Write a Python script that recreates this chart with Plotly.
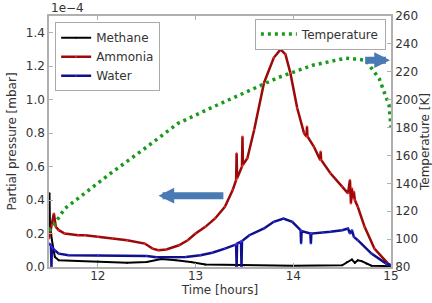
import plotly.graph_objects as go

# ---- data (hours, partial pressure in units of 1e-4 mbar, temperature K) ----
methane_t = [11.50, 11.505, 11.51, 11.53, 11.56, 11.60, 11.80, 12.00, 12.30, 12.50,
             12.65, 12.80, 12.95, 13.10, 13.50, 14.00, 14.50, 14.55, 14.60, 14.63,
             14.66, 14.70, 14.75, 14.80, 15.00]
methane_p = [0.30, 0.44, 0.25, 0.16, 0.06, 0.04, 0.036, 0.033, 0.025, 0.03,
             0.048, 0.04, 0.03, 0.015, 0.01, 0.008, 0.01, 0.03, 0.045, 0.025,
             0.04, 0.035, 0.02, 0.008, 0.005]

ammonia_t = [11.50, 11.53, 11.55, 11.57, 11.60, 11.66, 11.80, 11.87, 12.00, 12.15,
             12.30, 12.48, 12.56, 12.62, 12.70, 12.83, 12.92, 13.00, 13.10, 13.20,
             13.30, 13.38, 13.415, 13.42, 13.425, 13.475, 13.48, 13.485, 13.53, 13.60,
             13.70, 13.80, 13.87, 13.92, 13.97, 14.04, 14.11, 14.135, 14.14, 14.145,
             14.21, 14.275, 14.28, 14.285, 14.38, 14.50, 14.56, 14.58, 14.59, 14.60,
             14.61, 14.62, 14.63, 14.66, 14.73, 14.83, 14.97, 15.00]
ammonia_p = [0.17, 0.25, 0.32, 0.24, 0.22, 0.20, 0.19, 0.19, 0.18, 0.17,
             0.16, 0.14, 0.11, 0.10, 0.105, 0.13, 0.16, 0.20, 0.24, 0.29,
             0.36, 0.46, 0.52, 0.68, 0.53, 0.60, 0.78, 0.61, 0.65, 0.82,
             1.10, 1.25, 1.30, 1.27, 1.16, 0.95, 0.80, 0.78, 0.84, 0.78,
             0.72, 0.64, 0.69, 0.64, 0.56, 0.48, 0.44, 0.52, 0.38, 0.47,
             0.41, 0.45, 0.40, 0.36, 0.24, 0.11, 0.02, 0.01]

water_t = [11.50, 11.52, 11.525, 11.53, 11.54, 11.56, 11.60, 11.70, 12.00, 12.50,
           12.60, 12.90, 13.05, 13.17, 13.30, 13.40, 13.415, 13.42, 13.425, 13.46,
           13.465, 13.47, 13.475, 13.55, 13.70, 13.80, 13.90, 13.99, 14.075, 14.08,
           14.085, 14.175, 14.18, 14.185, 14.30, 14.38, 14.50, 14.56, 14.58, 14.60,
           14.62, 14.66, 14.80, 14.95, 15.00]
water_p = [0.14, 0.13, 0.0, 0.12, 0.11, 0.10, 0.08, 0.07, 0.07, 0.066,
           0.058, 0.06, 0.07, 0.085, 0.11, 0.13, 0.135, 0.0, 0.14, 0.15,
           0.152, 0.0, 0.155, 0.19, 0.23, 0.27, 0.29, 0.27, 0.22, 0.14,
           0.215, 0.20, 0.14, 0.20, 0.205, 0.21, 0.22, 0.23, 0.20, 0.22,
           0.18, 0.16, 0.08, 0.02, 0.01]

temp_t = [11.50, 11.53, 11.66, 12.14, 12.48, 12.82, 13.17, 13.51, 13.85, 14.20,
          14.54, 14.74, 14.88, 14.98, 15.00]
temp_k = [106, 108, 121.8, 147.7, 165, 183, 194.5, 205, 216, 224.7,
          229.8, 228.3, 215, 196, 180]

x_ticks = [12, 13, 14, 15]
y_ticks = [0.0, 0.2, 0.4, 0.6, 0.8, 1.0, 1.2, 1.4]
y_tick_text = ["0.0", "0.2", "0.4", "0.6", "0.8", "1.0", "1.2", "1.4"]
t_ticks = [80, 100, 120, 140, 160, 180, 200, 220, 240, 260]

FONT = "DejaVu Sans"
TXT = "#333333"
AX = "#b0b0b0"

fig = go.Figure()
fig.add_trace(go.Scatter(x=methane_t, y=methane_p, name="Methane", mode="lines+markers",
                         line=dict(color="black", width=2), marker=dict(size=2, color="black"),
                         legend="legend"))
fig.add_trace(go.Scatter(x=ammonia_t, y=ammonia_p, name="Ammonia", mode="lines+markers",
                         line=dict(color="#9a0a0a", width=2.5), marker=dict(size=2, color="#ff2020"),
                         legend="legend"))
fig.add_trace(go.Scatter(x=water_t, y=water_p, name="Water", mode="lines+markers",
                         line=dict(color="#10108a", width=2.5), marker=dict(size=2, color="#3030ff"),
                         legend="legend"))
fig.add_trace(go.Scatter(x=temp_t, y=temp_k, name="Temperature", mode="lines", yaxis="y2",
                         line=dict(color="#1a9a1a", width=3.5, dash="3px,4px"),
                         legend="legend2"))

arrow_col = "#4a7ab4"
fig.add_annotation(x=12.62, y=0.426, ax=13.30, ay=0.426, xref="x", yref="y", axref="x", ayref="y",
                   showarrow=True, arrowhead=2, arrowsize=0.45, arrowwidth=7, arrowcolor=arrow_col, text="")
fig.add_annotation(x=14.99, y=1.236, ax=14.72, ay=1.236, xref="x", yref="y", axref="x", ayref="y",
                   showarrow=True, arrowhead=2, arrowsize=0.45, arrowwidth=7, arrowcolor=arrow_col, text="")
fig.add_annotation(x=0, y=1, xref="paper", yref="paper", xanchor="left", yanchor="bottom",
                   text="1e\u22124", showarrow=False, font=dict(family=FONT, size=12, color=TXT), yshift=-1)

fig.update_layout(
    width=432, height=303,
    margin=dict(l=49, r=41, t=16, b=36, autoexpand=False),
    paper_bgcolor="white", plot_bgcolor="white",
    font=dict(family=FONT, size=12, color=TXT),
    xaxis=dict(range=[11.5, 15], tickvals=x_ticks, ticks="inside", ticklen=4, tickcolor=AX,
               showline=True, linecolor=AX, linewidth=1.5, mirror="ticks", showgrid=False,
               zeroline=False, title=dict(text="Time [hours]", font=dict(size=12), standoff=0),
               tickfont=dict(size=12), ticklabelstandoff=-3, automargin=False),
    yaxis=dict(range=[0, 1.5], tickvals=y_ticks, ticktext=y_tick_text, ticks="inside", ticklen=4,
               tickcolor=AX, showline=True, linecolor=AX, linewidth=1.5, showgrid=False,
               zeroline=False, title=dict(text="Partial pressure [mbar]", font=dict(size=12), standoff=7),
               tickfont=dict(size=12), automargin=False),
    yaxis2=dict(range=[80, 260], tickvals=t_ticks, overlaying="y", side="right", ticks="inside",
                ticklen=4, tickcolor=AX, showline=True, linecolor=AX, linewidth=1.5, showgrid=False,
                zeroline=False, title=dict(text="Temperature [K]", font=dict(size=12), standoff=2),
                tickfont=dict(size=12), automargin=False),
    legend=dict(x=0.018, y=0.975, xanchor="left", yanchor="top", bgcolor="white",
                bordercolor="#aaaaaa", borderwidth=1, font=dict(size=12), tracegroupgap=0,
                itemwidth=30),
    legend2=dict(x=0.985, y=0.99, xanchor="right", yanchor="top", bgcolor="white",
                 bordercolor="#aaaaaa", borderwidth=1, font=dict(size=12), itemwidth=36),
    showlegend=True,
)

fig.write_html("out.html", config={"displayModeBar": False},
               post_script="document.body.style.margin='0';document.body.style.overflow='hidden';")
